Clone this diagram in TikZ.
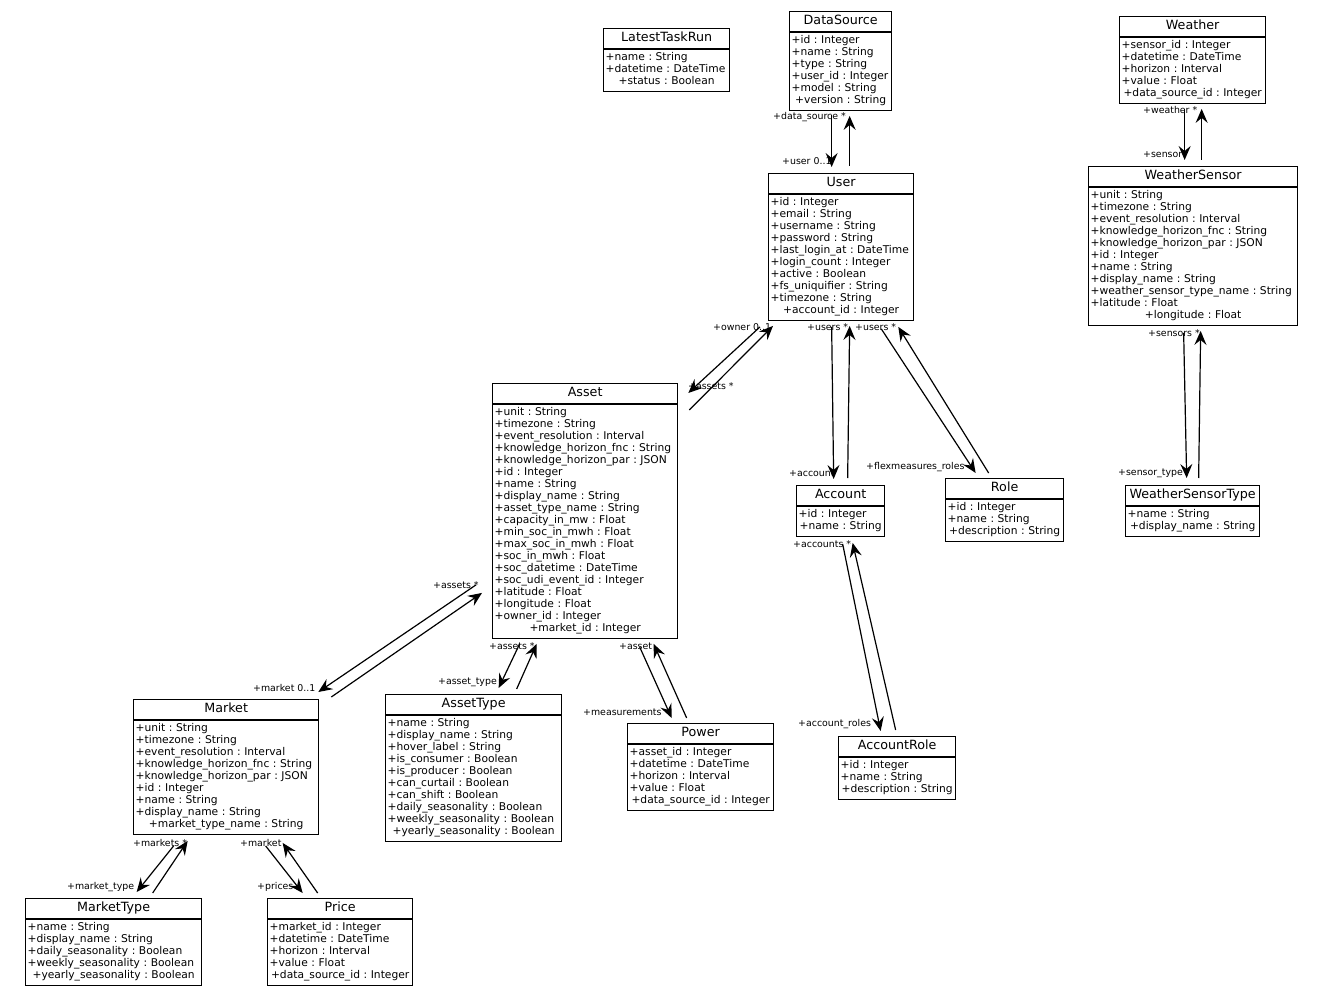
\documentclass[tikz,border=0pt]{standalone}
\usepackage{fontspec}
\setmainfont{DejaVu Sans}
\usetikzlibrary{shapes.multipart,arrows.meta,calc}
\frenchspacing

\newcommand{\cname}[1]{{\centering\fontsize{12.7}{14}\selectfont\noindent\strut#1\par}}
\newcommand{\attr}[1]{\noindent\mbox{\strut#1}\par}
\newcommand{\lastattr}[1]{{\centering\noindent\mbox{\strut#1}\par}}

\begin{document}
\begin{tikzpicture}[x=1pt,y=-1pt,
    umlclass/.style={draw,fill=white,line width=1.3pt,rectangle split,rectangle split parts=2,
        anchor=north west,inner xsep=2pt,inner ysep=2.5pt,text width=#1,
        font=\fontsize{10.7}{12}\selectfont},
    assoc/.style={-{Stealth[length=14pt,width=12pt,inset=5pt]},line width=1.2pt},
    lbl/.style={anchor=west,inner sep=0pt,font=\fontsize{9.4}{10}\selectfont}]
    \useasboundingbox[fill=white] (0,0) rectangle (1323,995);

    \node[umlclass=122pt] (latesttaskrun) at (603,28) {\cname{LatestTaskRun}\nodepart{two}%
        \attr{+name : String}\attr{+datetime : DateTime}\lastattr{+status : Boolean}};
    \node[umlclass=98pt] (datasource) at (789,11) {\cname{DataSource}\nodepart{two}%
        \attr{+id : Integer}\attr{+name : String}\attr{+type : String}\attr{+user\_id : Integer}%
        \attr{+model : String}\lastattr{+version : String}};
    \node[umlclass=142pt] (weather) at (1119,16) {\cname{Weather}\nodepart{two}%
        \attr{+sensor\_id : Integer}\attr{+datetime : DateTime}\attr{+horizon : Interval}%
        \attr{+value : Float}\lastattr{+data\_source\_id : Integer}};
    \node[umlclass=141pt] (user) at (768,173) {\cname{User}\nodepart{two}%
        \attr{+id : Integer}\attr{+email : String}\attr{+username : String}\attr{+password : String}%
        \attr{+last\_login\_at : DateTime}\attr{+login\_count : Integer}\attr{+active : Boolean}%
        \attr{+fs\_uniquifier : String}\attr{+timezone : String}\lastattr{+account\_id : Integer}};
    \node[umlclass=205pt] (weathersensor) at (1088,166) {\cname{WeatherSensor}\nodepart{two}%
        \attr{+unit : String}\attr{+timezone : String}\attr{+event\_resolution : Interval}%
        \attr{+knowledge\_horizon\_fnc : String}\attr{+knowledge\_horizon\_par : JSON}%
        \attr{+id : Integer}\attr{+name : String}\attr{+display\_name : String}%
        \attr{+weather\_sensor\_type\_name : String}\attr{+latitude : Float}\lastattr{+longitude : Float}};
    \node[umlclass=181pt] (asset) at (492,383) {\cname{Asset}\nodepart{two}%
        \attr{+unit : String}\attr{+timezone : String}\attr{+event\_resolution : Interval}%
        \attr{+knowledge\_horizon\_fnc : String}\attr{+knowledge\_horizon\_par : JSON}%
        \attr{+id : Integer}\attr{+name : String}\attr{+display\_name : String}%
        \attr{+asset\_type\_name : String}\attr{+capacity\_in\_mw : Float}%
        \attr{+min\_soc\_in\_mwh : Float}\attr{+max\_soc\_in\_mwh : Float}\attr{+soc\_in\_mwh : Float}%
        \attr{+soc\_datetime : DateTime}\attr{+soc\_udi\_event\_id : Integer}\attr{+latitude : Float}%
        \attr{+longitude : Float}\attr{+owner\_id : Integer}\lastattr{+market\_id : Integer}};
    \node[umlclass=84pt] (account) at (796,485) {\cname{Account}\nodepart{two}%
        \attr{+id : Integer}\lastattr{+name : String}};
    \node[umlclass=114pt] (role) at (945,478) {\cname{Role}\nodepart{two}%
        \attr{+id : Integer}\attr{+name : String}\lastattr{+description : String}};
    \node[umlclass=130pt] (weathersensortype) at (1125,485) {\cname{WeatherSensorType}\nodepart{two}%
        \attr{+name : String}\lastattr{+display\_name : String}};
    \node[umlclass=181pt] (market) at (133,699) {\cname{Market}\nodepart{two}%
        \attr{+unit : String}\attr{+timezone : String}\attr{+event\_resolution : Interval}%
        \attr{+knowledge\_horizon\_fnc : String}\attr{+knowledge\_horizon\_par : JSON}%
        \attr{+id : Integer}\attr{+name : String}\attr{+display\_name : String}%
        \lastattr{+market\_type\_name : String}};
    \node[umlclass=172pt] (assettype) at (385,694) {\cname{AssetType}\nodepart{two}%
        \attr{+name : String}\attr{+display\_name : String}\attr{+hover\_label : String}%
        \attr{+is\_consumer : Boolean}\attr{+is\_producer : Boolean}\attr{+can\_curtail : Boolean}%
        \attr{+can\_shift : Boolean}\attr{+daily\_seasonality : Boolean}%
        \attr{+weekly\_seasonality : Boolean}\lastattr{+yearly\_seasonality : Boolean}};
    \node[umlclass=142pt] (power) at (627,723) {\cname{Power}\nodepart{two}%
        \attr{+asset\_id : Integer}\attr{+datetime : DateTime}\attr{+horizon : Interval}%
        \attr{+value : Float}\lastattr{+data\_source\_id : Integer}};
    \node[umlclass=113pt] (accountrole) at (838,736) {\cname{AccountRole}\nodepart{two}%
        \attr{+id : Integer}\attr{+name : String}\lastattr{+description : String}};
    \node[umlclass=172pt] (markettype) at (25,898) {\cname{MarketType}\nodepart{two}%
        \attr{+name : String}\attr{+display\_name : String}\attr{+daily\_seasonality : Boolean}%
        \attr{+weekly\_seasonality : Boolean}\lastattr{+yearly\_seasonality : Boolean}};
    \node[umlclass=141pt] (price) at (267,898) {\cname{Price}\nodepart{two}%
        \attr{+market\_id : Integer}\attr{+datetime : DateTime}\attr{+horizon : Interval}%
        \attr{+value : Float}\lastattr{+data\_source\_id : Integer}};

    \foreach \c in {latesttaskrun,datasource,weather,user,weathersensor,asset,account,role,
            weathersensortype,market,assettype,power,accountrole,markettype,price}
        \draw[line width=2.2pt] (\c.text split west) -- (\c.text split east);

    \draw[assoc] ($(datasource.south)+(-9,4)$) -- ($(user.north)+(-9.5,-6)$);
    \draw[assoc] ($(user.north)+(8.5,-7)$) -- ($(datasource.south)+(9,5)$);
    \draw[assoc] ($(weather.south)+(-8,5)$) -- ($(weathersensor.north)+(-8.5,-6)$);
    \draw[assoc] ($(weathersensor.north)+(8.5,-6)$) -- ($(weather.south)+(9,5)$);
    \draw[assoc] ($(user.south west)+(-8,6)$) -- ($(asset.north east)+(10,10)$);
    \draw[assoc] ($(asset.north east)+(11,27)$) -- ($(user.south west)+(5,5)$);
    \draw[assoc] ($(user.south)+(-9.5,6)$) -- ($(account.north)+(-7,-6)$);
    \draw[assoc] ($(account.north)+(7,-7)$) -- ($(user.south)+(8.5,5)$);
    \draw[assoc] ($(user.south east)+(-33,8)$) -- ($(role.north)+(-29,-5)$);
    \draw[assoc] ($(role.north)+(-16,-5)$) -- ($(user.south east)+(-16,6)$);
    \draw[assoc] ($(weathersensor.south)+(-9.5,7)$) -- ($(weathersensortype.north)+(-6,-7)$);
    \draw[assoc] ($(weathersensortype.north)+(6,-7)$) -- ($(weathersensor.south)+(7.5,5)$);
    \draw[assoc] ($(account.south)+(2,7)$) -- ($(accountrole.north)+(-16.5,-5)$);
    \draw[assoc] ($(accountrole.north)+(-1.5,-6)$) -- ($(account.south)+(12,6)$);
    \draw[assoc] ($(asset.south west)+(-16,-54)$) -- ($(market.north east)+(-1,-7)$);
    \draw[assoc] ($(market.north east)+(12,-2)$) -- ($(asset.south west)+(-10,-46)$);
    \draw[assoc] ($(asset.south)+(-65.5,5)$) -- ($(assettype.north)+(25,-6)$);
    \draw[assoc] ($(assettype.north)+(43,-5)$) -- ($(asset.south)+(-48.5,5)$);
    \draw[assoc] ($(asset.south)+(54.5,8)$) -- ($(power.north)+(-29,-5)$);
    \draw[assoc] ($(power.north)+(-14,-5)$) -- ($(asset.south)+(68.5,5)$);
    \draw[assoc] ($(market.south)+(-52.5,11)$) -- ($(markettype.north)+(23,-6)$);
    \draw[assoc] ($(markettype.north)+(39,-5)$) -- ($(market.south)+(-38.5,6)$);
    \draw[assoc] ($(market.south)+(39.5,11)$) -- ($(price.north)+(-37.5,-5)$);
    \draw[assoc] ($(price.north)+(-22.5,-5)$) -- ($(market.south)+(56.5,8)$);

    \node[lbl] (l_data_source) at (773,117) {+data\_source *};
    \node[lbl] (l_user) at (782,161) {+user 0..1};
    \node[lbl] (l_weather) at (1143,110) {+weather *};
    \node[lbl] (l_sensor) at (1143,155) {+sensor};
    \node[lbl] (l_owner) at (713,327) {+owner 0..1};
    \node[lbl] (l_assets_owner) at (688,386) {+assets *};
    \node[lbl] (l_users_account) at (807,327) {+users *};
    \node[lbl] (l_users_role) at (855,327) {+users *};
    \node[lbl] (l_account) at (789,473) {+account};
    \node[lbl] (l_flexmeasures_roles) at (866,467) {+flexmeasures\_roles};
    \node[lbl] (l_sensors) at (1148,333) {+sensors *};
    \node[lbl] (l_sensor_type) at (1118,473) {+sensor\_type};
    \node[lbl] (l_accounts) at (793,544) {+accounts *};
    \node[lbl] (l_account_roles) at (798,724) {+account\_roles};
    \node[lbl] (l_assets_market) at (433,585) {+assets *};
    \node[lbl] (l_market) at (253,688) {+market 0..1};
    \node[lbl] (l_assets_type) at (489,646) {+assets *};
    \node[lbl] (l_asset_type) at (438,682) {+asset\_type};
    \node[lbl] (l_asset) at (619,646) {+asset};
    \node[lbl] (l_measurements) at (583,712) {+measurements};
    \node[lbl] (l_markets) at (133,843) {+markets *};
    \node[lbl] (l_market_type) at (67,887) {+market\_type};
    \node[lbl] (l_market_price) at (240,843) {+market};
    \node[lbl] (l_prices) at (257,887) {+prices};
\end{tikzpicture}
\end{document}
